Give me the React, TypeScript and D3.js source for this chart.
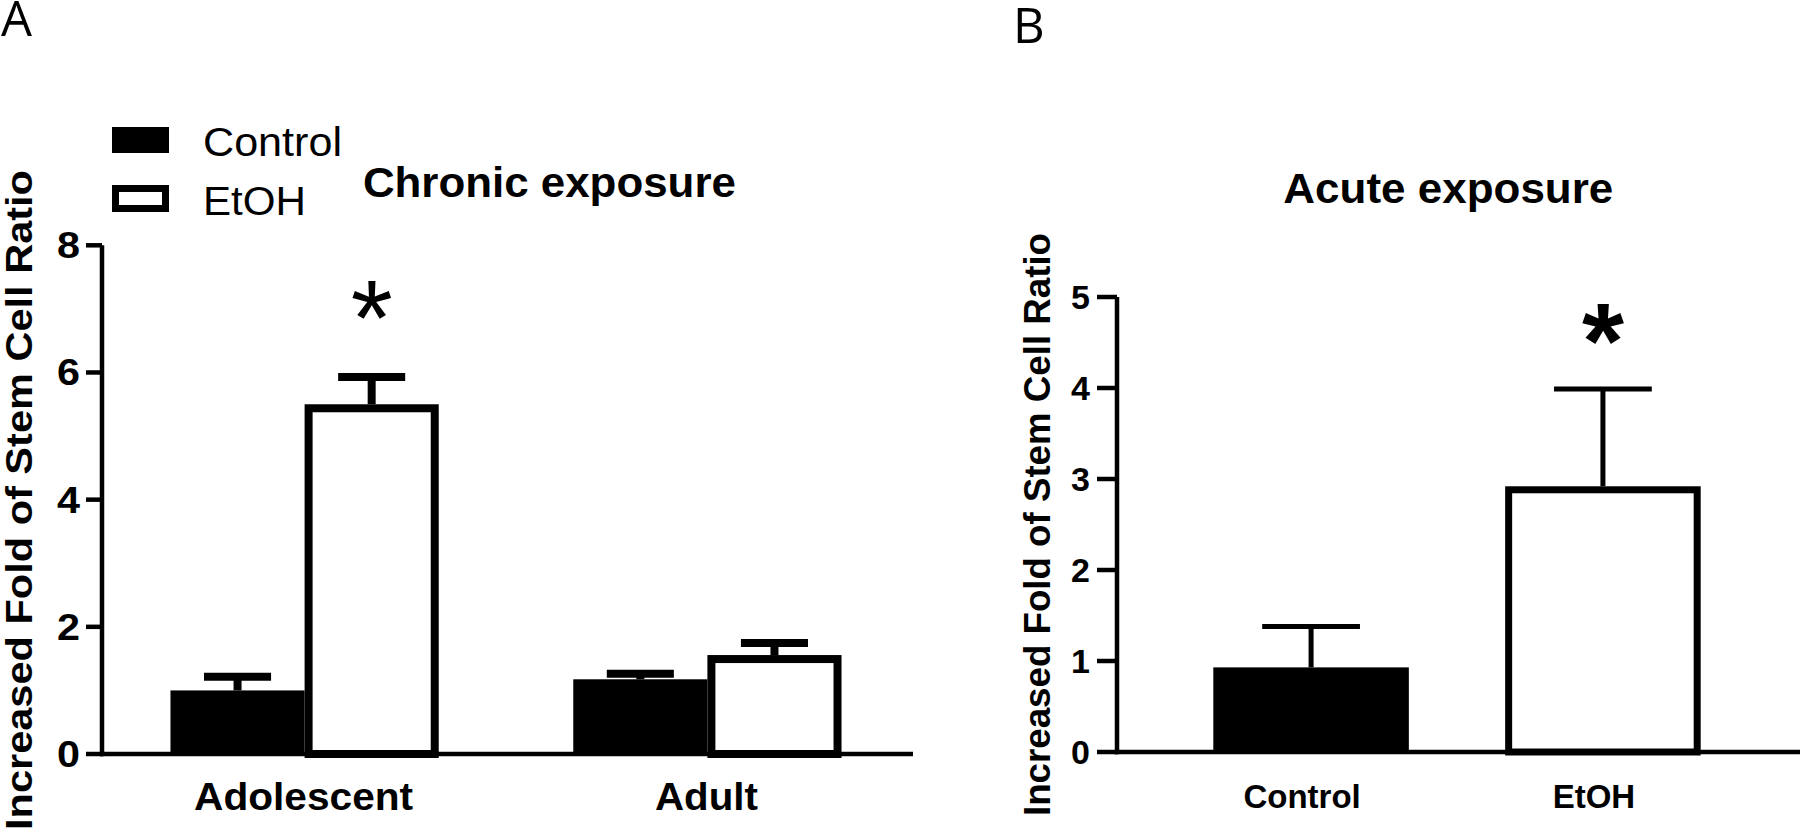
import React from 'react';
import * as d3 from 'd3';

// ---------- Data ----------
const seriesNames = ['Control', 'EtOH'];

// Panel A: Chronic exposure
const groupsA = ['Adolescent', 'Adult'];
const controlA = [1.0, 1.175];
const etohA = [5.5, 1.556];
const controlSemA = [0.216, 0.088];
const etohSemA = [0.43, 0.19];
const etohSigA = [true, false];
const ticksA = [0, 2, 4, 6, 8];

// Panel B: Acute exposure
const groupsB = ['Control', 'EtOH'];
const valuesB = [0.93, 2.92];
const semB = [0.45, 1.07];
const sigB = [false, true];
const ticksB = [0, 1, 2, 3, 4, 5];

const titleA = 'Chronic exposure';
const titleB = 'Acute exposure';
const yLabel = 'Increased Fold of Stem Cell Ratio';

const FONT = "'Liberation Sans', Arial, Helvetica, sans-serif";
const PANEL_FONT = "'Open Sans', 'Noto Sans', sans-serif";

export default function App() {
  // ----- Panel A scales -----
  const yA = d3.scaleLinear().domain([0, 8]).range([754, 245.3]);
  const xA = d3.scaleBand().domain(groupsA).range([102, 910]).paddingInner(0.334).paddingOuter(0.17);
  const subA = d3.scaleBand().domain(seriesNames).range([0, xA.bandwidth()]);
  const bwA = subA.bandwidth();

  // ----- Panel B scales -----
  const yB = d3.scaleLinear().domain([0, 5]).range([752, 297]);
  const xB = d3.scaleBand().domain(groupsB).range([1117, 1797]).padding(0.33);
  const bwB = xB.bandwidth();

  const swA = 8;
  const swB = 7;

  const barsA: any[] = [];
  groupsA.forEach((g, i) => {
    const x0 = (xA(g) as number) + (subA('Control') as number);
    const x1 = (xA(g) as number) + (subA('EtOH') as number);
    const cv = controlA[i];
    const ev = etohA[i];
    barsA.push(
      <rect key={'ca' + i} x={x0} y={yA(cv)} width={bwA} height={yA(0) - yA(cv)} fill="#000" />
    );
    const ccx = x0 + bwA / 2;
    barsA.push(
      <g key={'cea' + i} stroke="#000" strokeWidth={swA}>
        <line x1={ccx} x2={ccx} y1={yA(cv)} y2={yA(cv + controlSemA[i])} />
        <line x1={ccx - bwA / 4} x2={ccx + bwA / 4} y1={yA(cv + controlSemA[i])} y2={yA(cv + controlSemA[i])} />
      </g>
    );
    barsA.push(
      <rect key={'ea' + i} x={x1 + swA / 2} y={yA(ev) + swA / 2} width={bwA - swA}
        height={yA(0) - yA(ev) - swA / 2} fill="#fff" stroke="#000" strokeWidth={swA} />
    );
    const ecx = x1 + bwA / 2;
    const etop = yA(ev + etohSemA[i]);
    barsA.push(
      <g key={'eea' + i} stroke="#000" strokeWidth={swA}>
        <line x1={ecx} x2={ecx} y1={yA(ev)} y2={etop} />
        <line x1={ecx - bwA / 4} x2={ecx + bwA / 4} y1={etop} y2={etop} />
      </g>
    );
    if (etohSigA[i]) {
      barsA.push(
        <text key={'sa' + i} x={ecx} y={etop - 22} textAnchor="middle" fontFamily={FONT}
          fontWeight="normal" fontSize={108}>*</text>
      );
    }
  });

  const barsB: any[] = [];
  groupsB.forEach((g, i) => {
    const x0 = xB(g) as number;
    const v = valuesB[i];
    const cx = x0 + bwB / 2;
    const top = yB(v + semB[i]);
    if (i === 0) {
      barsB.push(<rect key={'b' + i} x={x0} y={yB(v)} width={bwB} height={yB(0) - yB(v)} fill="#000" />);
    } else {
      barsB.push(
        <rect key={'b' + i} x={x0 + swB / 2} y={yB(v) + swB / 2} width={bwB - swB}
          height={yB(0) - yB(v) - swB / 2} fill="#fff" stroke="#000" strokeWidth={swB} />
      );
    }
    barsB.push(
      <g key={'be' + i} stroke="#000" strokeWidth={5}>
        <line x1={cx} x2={cx} y1={yB(v)} y2={top} />
        <line x1={cx - bwB / 4} x2={cx + bwB / 4} y1={top} y2={top} />
      </g>
    );
    if (sigB[i]) {
      barsB.push(
        <text key={'sb' + i} x={cx} y={top - 11} textAnchor="middle" fontFamily={FONT}
          fontWeight="bold" fontSize={108}>*</text>
      );
    }
  });

  const xLabelWidthsA: Record<string, number> = { Adolescent: 219, Adult: 103 };

  return (
    <svg width={1800} height={831} style={{ position: 'absolute', left: 0, top: 0, display: 'block', background: '#fff' }}>
      <rect x={0} y={0} width={1800} height={831} fill="#fff" />
      {/* Panel labels */}
      <text x={1} y={36} fontFamily={PANEL_FONT} fontSize={49}>A</text>
      <text x={1013} y={42.5} fontFamily={PANEL_FONT} fontSize={49}>B</text>

      {/* ===== Panel A ===== */}
      <text x={549.4} y={197} textAnchor="middle" fontFamily={FONT} fontWeight="bold" fontSize={42}
        textLength={373} lengthAdjust="spacingAndGlyphs">{titleA}</text>

      {/* legend */}
      <rect x={112} y={127} width={57} height={26} fill="#000" />
      <text x={203} y={156} fontFamily={FONT} fontSize={41} textLength={139} lengthAdjust="spacingAndGlyphs">{seriesNames[0]}</text>
      <rect x={112 + 3.5} y={185 + 3.5} width={57 - 7} height={27 - 7} fill="#fff" stroke="#000" strokeWidth={7} />
      <text x={203} y={215} fontFamily={FONT} fontSize={41} textLength={103} lengthAdjust="spacingAndGlyphs">{seriesNames[1]}</text>

      {/* y label A */}
      <text transform={`translate(32,500) rotate(-90)`} textAnchor="middle" fontFamily={FONT} fontWeight="bold"
        fontSize={37} textLength={660} lengthAdjust="spacingAndGlyphs">{yLabel}</text>

      {barsA}

      {/* axes A */}
      <g stroke="#000" strokeWidth={4.5}>
        <line x1={102} x2={102} y1={yA(8)} y2={yA(0) + 2.25} />
        <line x1={100} x2={913} y1={yA(0)} y2={yA(0)} />
        {ticksA.map((t) => (
          <line key={t} x1={86} x2={102} y1={yA(t)} y2={yA(t)} />
        ))}
      </g>
      {ticksA.map((t) => (
        <text key={'tl' + t} x={80} y={yA(t) + 12.9} textAnchor="end" fontFamily={FONT} fontWeight="bold"
          fontSize={36} textLength={23} lengthAdjust="spacingAndGlyphs">{t}</text>
      ))}
      {groupsA.map((g) => (
        <text key={'xl' + g} x={(xA(g) as number) + xA.bandwidth() / 2 - 1} y={810} textAnchor="middle"
          fontFamily={FONT} fontWeight="bold" fontSize={38} textLength={xLabelWidthsA[g]}
          lengthAdjust="spacingAndGlyphs">{g}</text>
      ))}

      {/* ===== Panel B ===== */}
      <text x={1448.3} y={203.3} textAnchor="middle" fontFamily={FONT} fontWeight="bold" fontSize={42}
        textLength={330} lengthAdjust="spacingAndGlyphs">{titleB}</text>

      <text transform={`translate(1050,524.5) rotate(-90)`} textAnchor="middle" fontFamily={FONT} fontWeight="bold"
        fontSize={37} textLength={583} lengthAdjust="spacingAndGlyphs">{yLabel}</text>

      {barsB}

      <g stroke="#000" strokeWidth={4.5}>
        <line x1={1117} x2={1117} y1={yB(5)} y2={yB(0) + 2.25} />
        <line x1={1115} x2={1800} y1={yB(0)} y2={yB(0)} />
        {ticksB.map((t) => (
          <line key={t} x1={1097} x2={1117} y1={yB(t)} y2={yB(t)} />
        ))}
      </g>
      {ticksB.map((t) => (
        <text key={'tb' + t} x={1090} y={yB(t) + 12.2} textAnchor="end" fontFamily={FONT} fontWeight="bold"
          fontSize={34}>{t}</text>
      ))}
      {groupsB.map((g) => (
        <text key={'xb' + g} x={(xB(g) as number) + bwB / 2 - 9} y={808} textAnchor="middle"
          fontFamily={FONT} fontWeight="bold" fontSize={33}>{g}</text>
      ))}
    </svg>
  );
}
